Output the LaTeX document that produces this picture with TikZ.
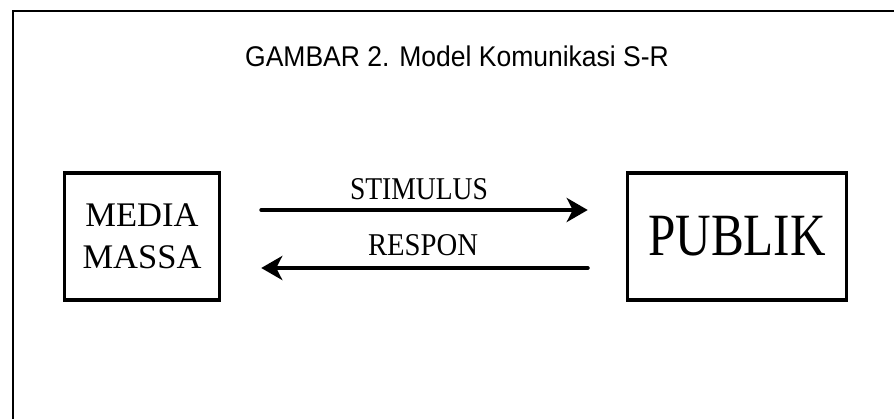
\documentclass[tikz,border=0pt]{standalone}
\usepackage{fontspec}
\usepackage{graphicx}
\setmainfont{Liberation Serif}
\newfontfamily\titlefont{Liberation Sans}
\usetikzlibrary{arrows.meta}
% horizontally condensed text
\newcommand{\narrowtext}[2]{\scalebox{#1}[1]{#2}}
\tikzset{
  frameline/.style={line width=1.6pt},
  boxnode/.style={draw, line width=3.5pt, inner sep=0pt, align=center},
  flow/.style={line width=4pt, line cap=round,
    -{Stealth[length=21pt,width=24pt,inset=6pt]}},
  lbl/.style={inner sep=0pt, font=\fontsize{31.7}{36}\selectfont},
}
\begin{document}
\begin{tikzpicture}[x=1pt,y=-1pt]
\useasboundingbox (0,0) rectangle (894,419);
% open frame: left and top edges
\draw[frameline] (13,419) -- (13,11) -- (894,11);
% caption
\node[anchor=base, inner sep=0pt, font=\titlefont\fontsize{28.5}{34}\selectfont]
  (title) at (457,67) {\narrowtext{0.93}{GAMBAR 2. Model Komunikasi S-R}};
% the two parties
\node[boxnode, minimum width=155pt, minimum height=127pt,
  font=\fontsize{34.5}{42}\selectfont] (media) at (142,236.5) {MEDIA\\MASSA};
\node[boxnode, minimum width=219pt, minimum height=127pt,
  font=\fontsize{60}{66}\selectfont] (publik) at (737,236.5) {\narrowtext{0.82}{PUBLIK}};
% stimulus and response
\draw[flow, shorten <=40pt, shorten >=38pt]
  ([yshift=26.5pt]media.east) -- ([yshift=26.5pt]publik.west);
\draw[flow, shorten <=38pt, shorten >=40pt]
  ([yshift=-31.5pt]publik.west) -- ([yshift=-31.5pt]media.east);
\node[lbl, anchor=base] (stim) at (419,200) {\narrowtext{0.87}{STIMULUS}};
\node[lbl, anchor=base] (resp) at (423,256) {\narrowtext{0.905}{RESPON}};
\end{tikzpicture}
\end{document}
